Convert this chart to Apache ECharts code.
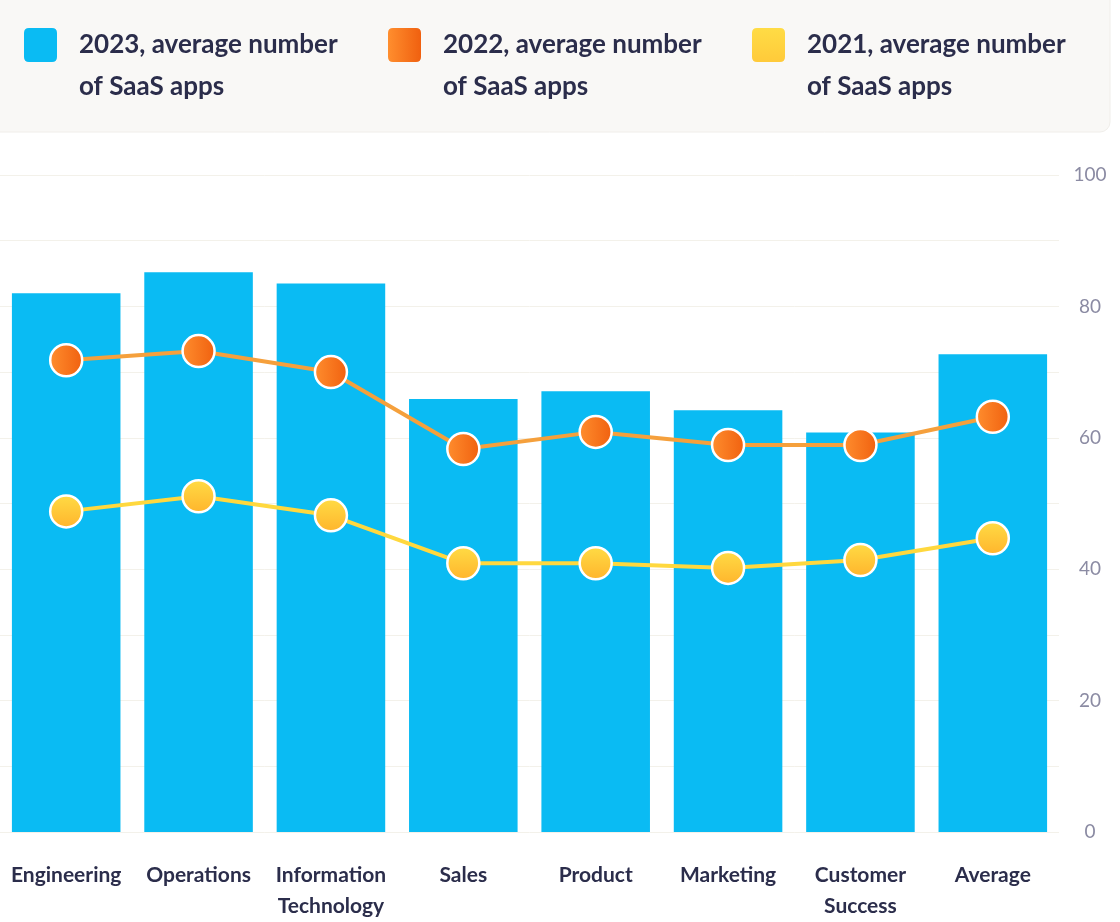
<!DOCTYPE html>
<html>
<head>
<meta charset="utf-8">
<style>
html,body{margin:0;padding:0;background:#fff;}
#chart{width:1120px;height:922px;}
</style>
<script src="https://cdn.jsdelivr.net/npm/echarts@6/dist/echarts.min.js"></script>
</head>
<body>
<div id="chart"></div>
<script>
const categories = ['Engineering','Operations','Information\nTechnology','Sales','Product','Marketing','Customer\nSuccess','Average'];
const values2023 = [82.0, 85.2, 83.5, 65.9, 67.1, 64.2, 60.8, 72.7];
const values2022 = [71.8, 73.2, 70.0, 58.3, 60.9, 58.9, 58.9, 63.2];
const values2021 = [48.8, 51.1, 48.2, 40.9, 40.9, 40.2, 41.4, 44.7];
const seriesNames = ['2023, average number\nof SaaS apps','2022, average number\nof SaaS apps','2021, average number\nof SaaS apps'];

const chart = echarts.init(document.getElementById('chart'));
const fontFamily = 'Lato, "Noto Sans", sans-serif';
const blue = '#0abbf3';
const orangeGrad = new echarts.graphic.LinearGradient(0,0,1,0,[{offset:0,color:'#ff8e2e'},{offset:1,color:'#f0600f'}]);
const yellowGrad = new echarts.graphic.LinearGradient(0,0,0,1,[{offset:0,color:'#ffdc45'},{offset:1,color:'#ffb42c'}]);
// rounded square at top of a taller (invisible) box so the icon aligns with the first text line
const legendIcon = 'path://M5,0 L28,0 Q33,0 33,5 L33,29 Q33,34 28,34 L5,34 Q0,34 0,29 L0,5 Q0,0 5,0 Z M0,76 L33,76 L33,76 Z';

function legendAt(x, name, color){
  return {
    left: x, top: 24, data:[{name:name, itemStyle:{color:color, borderWidth:0}}],
    icon: legendIcon, itemWidth: 33, itemHeight: 76, itemGap: 0,
    selectedMode:false,
    textStyle:{fontFamily:fontFamily, fontSize:26, fontWeight:'bold', color:'#2b2d4b', lineHeight:42, padding:[0,0,0,17]},
    padding:0
  };
}

chart.setOption({
  backgroundColor:'#ffffff',
  animation:false,
  graphic:[{type:'rect', z:-10, shape:{x:-12,y:-12,width:1122,height:144,r:10}, style:{fill:'#f9f8f6', stroke:'#f0eeea', lineWidth:1}}],
  legend:[legendAt(24, seriesNames[0], blue), legendAt(388, seriesNames[1], orangeGrad), legendAt(752, seriesNames[2], yellowGrad)],
  grid:{left:0, right:61, top:175, bottom:87, containLabel:false},
  xAxis:{
    type:'category', data:categories,
    axisLine:{show:false}, axisTick:{show:false},
    axisLabel:{interval:0, margin:28, fontFamily:fontFamily, fontSize:21, fontWeight:'bold', color:'#2b2d4b', lineHeight:31}
  },
  yAxis:{
    type:'value', position:'right', min:0, max:100, interval:10,
    axisLine:{show:false}, axisTick:{show:false},
    splitLine:{lineStyle:{color:'#f3f1ea', width:1}},
    axisLabel:{margin:31, align:'center', fontFamily:fontFamily, fontSize:19, color:'#8b8ba3',
      formatter:function(v){return v%20===0?String(v):'';}}
  },
  series:[
    {name:seriesNames[0], type:'bar', data:values2023, barCategoryGap:'18%', itemStyle:{color:blue}, z:1},
    {name:seriesNames[1], type:'line', data:values2022, symbol:'circle', symbolSize:32,
      lineStyle:{color:'#f5a03c', width:4}, itemStyle:{color:orangeGrad, borderColor:'#fff', borderWidth:2.5}, z:3},
    {name:seriesNames[2], type:'line', data:values2021, symbol:'circle', symbolSize:32,
      lineStyle:{color:'#ffd83e', width:4}, itemStyle:{color:yellowGrad, borderColor:'#fff', borderWidth:2.5}, z:2}
  ]
});
</script>
</body>
</html>
